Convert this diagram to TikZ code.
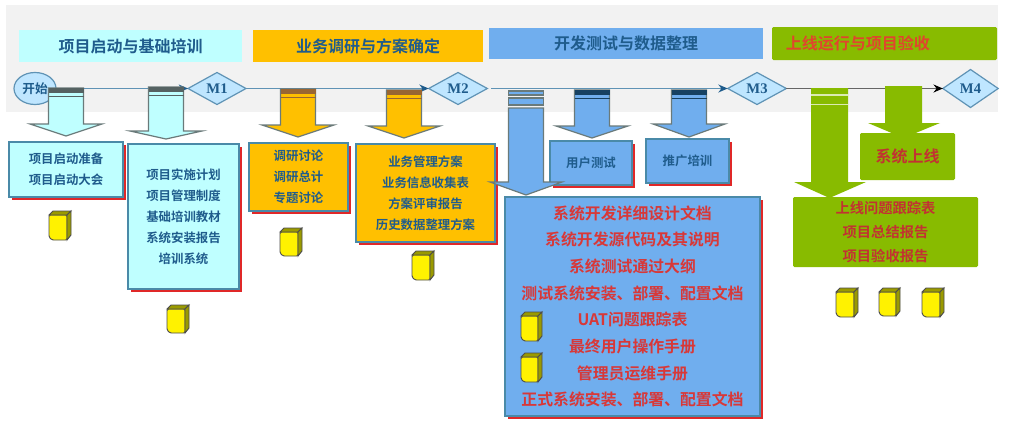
\documentclass[tikz,border=0pt]{standalone}
\usepackage{fontspec}
\setmainfont{Noto Sans CJK SC}[BoldFont={Noto Sans CJK SC Bold}]
\newfontfamily\msfont{Liberation Serif}
\usetikzlibrary{shapes.geometric,arrows.meta,shadows}
\definecolor{cyanf}{HTML}{BFFFFF}
\definecolor{orangef}{HTML}{FFC000}
\definecolor{bluef}{HTML}{70AEEE}
\definecolor{greenf}{HTML}{88BB00}
\definecolor{navyt}{HTML}{1F5C8C}
\definecolor{redt}{HTML}{D83838}
\definecolor{edgeb}{HTML}{4A8AA8}
\definecolor{lineb}{HTML}{5F93B5}
\definecolor{msfill}{HTML}{BFE6FF}
\definecolor{bgg}{HTML}{F2F2F2}
\definecolor{arr}{HTML}{6A7A7A}
\definecolor{shadowr}{HTML}{E02828}
\definecolor{docside}{HTML}{9A9A00}
\tikzset{
  titlebox/.style={inner sep=0pt,outer sep=0pt,font=\bfseries\fontsize{12}{14}\selectfont,text=navyt},
  pbox/.style={draw=edgeb,line width=.8pt,inner sep=0pt,outer sep=0pt,align=center,text=navyt,
    copy shadow={shadow xshift=2.4pt,shadow yshift=-2.4pt,fill=shadowr,draw=none},
    font=\bfseries\fontsize{9.3}{15.8}\selectfont},
  gbox/.style={fill=greenf,inner sep=0pt,outer sep=0pt,align=center,text=redt!90!black,rounded corners=1pt},
  mstone/.style={diamond,draw=lineb,line width=.9pt,fill=msfill,inner sep=0pt,outer sep=0pt,aspect=1.8,text=navyt,
    font=\msfont\bfseries\fontsize{11}{12}\selectfont},
  tl/.style={draw=lineb,line width=1pt},
  tip/.style={-{Stealth[length=7pt,width=6pt,#1]}}
}
% cx, top, neck, tip, fill, edge, stripe
\newcommand{\blockarrow}[7]{%
  \fill[#5,draw=#6,line width=.9pt] ({#1-17.5},#2)--({#1+17.5},#2)--({#1+17.5},#3)--({#1+36},#3)--(#1,#4)--({#1-36},#3)--({#1-17.5},#3)--cycle;
  \fill[#7] ({#1-17.5},#2) rectangle ({#1+17.5},{#2+4.5});
  \draw[#7,line width=.8pt] ({#1-17.5},{#2+8.5})--({#1+17.5},{#2+8.5});
}
% x, y, w, h
\newcommand{\docicon}[4]{%
  \draw[fill=yellow,draw=black!70,line width=.7pt,rounded corners=1pt] (#1,{#2+4})--({#1+#3-4},{#2+4})--({#1+#3-4},{#2+#4})--({#1+3},{#2+#4})--(#1,{#2+#4-3})--cycle;
  \draw[fill=docside,draw=black!70,line width=.7pt] (#1,{#2+4})--({#1+4},#2)--({#1+#3},#2)--({#1+#3-4},{#2+4})--cycle;
  \draw[fill=docside,draw=black!70,line width=.7pt] ({#1+#3-4},{#2+4})--({#1+#3},#2)--({#1+#3},{#2+#4-5})--({#1+#3-4},{#2+#4})--cycle;
}
\begin{document}
\begin{tikzpicture}[x=.75pt,y=-.75pt]
\useasboundingbox (0,0) rectangle (1009,446);
\fill[white] (0,0) rectangle (1009,446);
\fill[bgg] (6,5) rectangle (998,112);
% phase titles
\node[titlebox,fill=cyanf,minimum width=167.25pt,minimum height=24pt] (t1) at (130.5,46) {项目启动与基础培训};
\node[titlebox,fill=orangef,minimum width=172.5pt,minimum height=24pt] (t2) at (368,46) {业务调研与方案确定};
\node[titlebox,fill=bluef,minimum width=205.5pt,minimum height=23.25pt] (t3) at (626,43.5) {开发测试与数据整理};
\node[titlebox,fill=greenf,minimum width=168.75pt,minimum height=24.75pt,text=redt!80!orange,font=\fontsize{12}{14}\selectfont\bfseries,rounded corners=1pt] (t4) at (884.5,43.5) {\hspace{-40pt}上线运行与项目验收};
% milestones
\node[ellipse,draw=lineb,line width=.9pt,fill=msfill,minimum width=31.5pt,minimum height=24pt,inner sep=0pt,outer sep=0pt,text=navyt,font=\bfseries\fontsize{9.5}{11}\selectfont] (start) at (35,88.5) {开始};
\node[mstone,minimum width=43.5pt,minimum height=24pt] (m1) at (217,88.5) {M1};
\node[mstone,minimum width=44pt,minimum height=24pt] (m2) at (458,88.5) {M2};
\node[mstone,minimum width=44pt,minimum height=24pt] (m3) at (757,88.5) {M3};
\node[mstone,minimum width=41.5pt,minimum height=28.5pt] (m4) at (970.5,88.5) {M4};
\draw[tl,tip=navyt] (start.east) -- (m1.west);
\draw[tl,tip=navyt] (m1.east) -- (m2.west);
\draw[tl,tip=navyt,shorten <=3pt] (m2.east) -- (m3.west);
\draw[tl,draw=gray!80!black,tip=black] (m3.east) -- (m4.west);
% boxes
\node[pbox,fill=cyanf,minimum width=85.5pt,minimum height=41.25pt] (b1) at (66,169.5) {项目启动准备\\项目启动大会};
\node[pbox,fill=cyanf,minimum width=83.25pt,minimum height=108.75pt] (b2) at (183.5,216.5) {项目实施计划\\项目管理制度\\基础培训教材\\系统安装报告\\培训系统};
\node[pbox,fill=orangef,minimum width=74.25pt,minimum height=51pt] (b3) at (298.5,177) {调研讨论\\调研总计\\专题讨论};
\node[pbox,fill=orangef,minimum width=104.25pt,minimum height=73.5pt] (b4) at (425.5,193) {业务管理方案\\业务信息收集表\\方案评审报告\\历史数据整理方案};
\node[pbox,fill=bluef,minimum width=61.5pt,minimum height=33pt] (b5) at (591,163) {用户测试};
\node[pbox,fill=bluef,minimum width=62.25pt,minimum height=33pt] (b6) at (687.5,161) {推广培训};
\node[pbox,fill=bluef,minimum width=191.25pt,minimum height=164.25pt,text=redt,font=\bfseries\fontsize{11.9}{20}\selectfont] (b7) at (632.5,306.5) {系统开发详细设计文档\\系统开发源代码及其说明\\系统测试通过大纲\\测试系统安装、部署、配置文档\\UAT问题跟踪表\\最终用户操作手册\\管理员运维手册\\正式系统安装、部署、配置文档};
% block arrows
\blockarrow{66}{88}{124}{136}{cyanf}{arr}{arr!80!black}
\blockarrow{166}{87}{131}{139}{cyanf}{arr}{arr!80!black}
\blockarrow{298}{89}{125}{137}{orangef}{arr}{brown!80!black}
\blockarrow{404}{90}{126}{138}{orangef}{arr}{brown!80!black}
\blockarrow{592}{90}{126}{138}{bluef}{arr}{navyt!70!black}
\blockarrow{689}{90}{124}{137}{bluef}{arr}{navyt!70!black}
% long arrow with gaps in its shaft
\fill[bluef,draw=arr,line width=.9pt] (508.5,108)--(543.5,108)--(543.5,182)--(562,182)--(526,195)--(490,182)--(508.5,182)--cycle;
\fill[bluef,draw=arr,line width=.8pt] (508.5,91) rectangle (543.5,95);
\fill[bluef,draw=arr,line width=.8pt] (508.5,98) rectangle (543.5,105);
% green arrows
\fill[greenf] (811,88)--(848,88)--(848,182)--(866,182)--(829.5,198)--(794,182)--(811,182)--cycle;
\draw[white!70!greenf,line width=.8pt] (811,95)--(848,95) (811,104.5)--(848,104.5);
\fill[greenf] (885,86)--(922,86)--(922,123)--(940,123)--(903.5,138)--(868,123)--(885,123)--cycle;
\node[gbox,minimum width=71.25pt,minimum height=35.25pt,font=\bfseries\fontsize{12}{14}\selectfont] (b8) at (907.5,156.5) {系统上线};
\node[gbox,minimum width=138.75pt,minimum height=52.5pt,font=\bfseries\fontsize{10.7}{18}\selectfont] (b9) at (885.5,232) {上线问题跟踪表\\项目总结报告\\项目验收报告};
% document icons
\docicon{49}{211}{22}{29}
\docicon{167}{305}{22}{28}
\docicon{280}{228}{22}{28}
\docicon{412}{251}{22}{29}
\docicon{521}{312}{21}{29}
\docicon{521}{353}{21}{29}
\docicon{836}{288}{22}{29}
\docicon{879}{288}{21}{28}
\docicon{922}{288}{22}{29}
\end{tikzpicture}
\end{document}
